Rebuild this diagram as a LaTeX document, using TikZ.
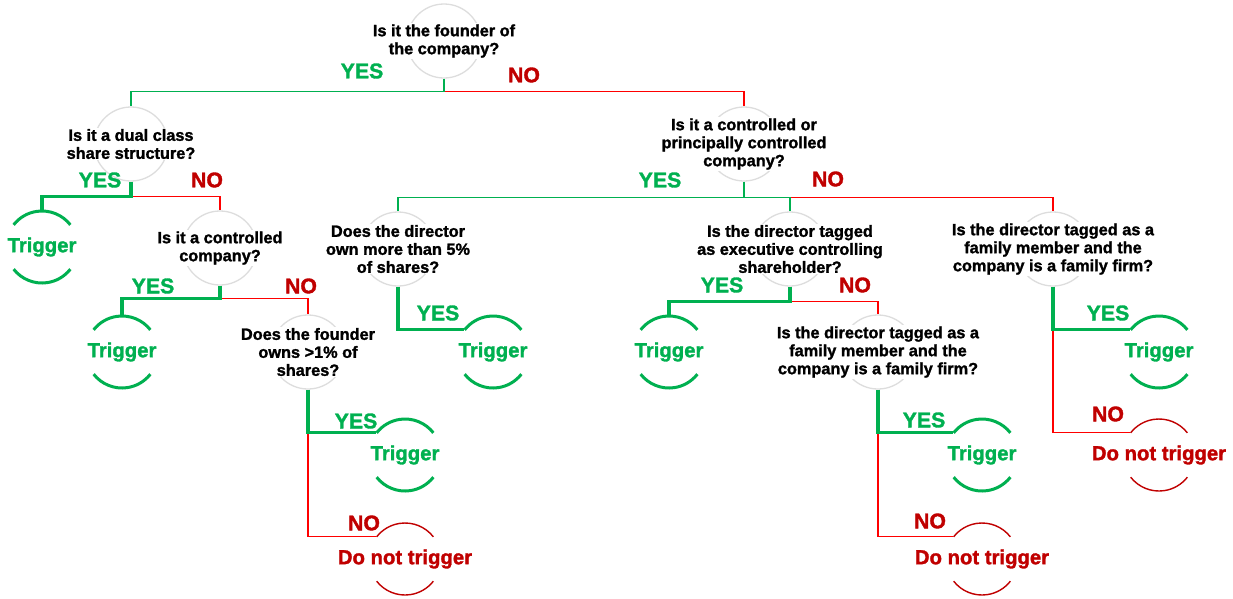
\documentclass[tikz,border=0pt]{standalone}
\usepackage{fontspec}
\setmainfont{Liberation Sans}[BoldFeatures={FakeBold=1.5}]
\usetikzlibrary{calc}
\definecolor{grn}{HTML}{00B050}
\definecolor{dred}{HTML}{C00000}
\definecolor{lred}{HTML}{FF0000}
\definecolor{cgray}{HTML}{DDDDDD}
\tikzset{
  qcirc/.style={circle, draw=cgray, line width=1.3pt, minimum size=74pt, inner sep=0pt},
  qtext/.style={fill=white, inner sep=1.5pt, align=center, font=\fontsize{16.3}{18}\selectfont\bfseries},
  res/.style={circle, minimum size=72pt, inner sep=0pt},
  restext/.style={inner sep=0pt, font=\fontsize{20.3}{22}\selectfont\bfseries},
  yes/.style={text=grn, inner sep=0pt, font=\fontsize{21.3}{22}\selectfont\bfseries},
  no/.style={text=dred, inner sep=0pt, font=\fontsize{21.3}{22}\selectfont\bfseries},
  gthin/.style={draw=grn, line width=1.5pt},
  gthick/.style={draw=grn, line width=3.3pt},
  rthin/.style={draw=lred, line width=1.4pt},
  garc/.style={draw=grn, line width=3pt},
  rarc/.style={draw=dred, line width=1.4pt},
}
\newcommand\resarcs[2]{%
  \draw[#2] ($(#1.center)+(38:36)$) arc[start angle=38,end angle=142,radius=36];
  \draw[#2] ($(#1.center)+(218:36)$) arc[start angle=218,end angle=322,radius=36];}
\begin{document}
\begin{tikzpicture}[x=1pt,y=1pt]
\useasboundingbox (0,0) rectangle (1233,-598);

% question circles
\node[qcirc] (q0) at (444,-41) {};
\node[qcirc] (q1) at (131,-144) {};
\node[qcirc] (q2) at (744,-144) {};
\node[qcirc] (q3) at (220,-248) {};
\node[qcirc] (q4) at (308,-352) {};
\node[qcirc] (q5) at (398,-249) {};
\node[qcirc] (q6) at (790,-249) {};
\node[qcirc] (q7) at (1053,-249) {};
\node[qcirc] (q8) at (878,-352) {};

\node[qtext] (q0t) at (q0) {Is it the founder of\\the company?};
\node[qtext] (q1t) at (q1) {Is it a dual class\\share structure?};
\node[qtext] (q2t) at (q2) {Is it a controlled or\\principally controlled\\company?};
\node[qtext] (q3t) at (q3) {Is it a controlled\\company?};
\node[qtext] (q4t) at (q4) {Does the founder\\owns >1\% of\\shares?};
\node[qtext] (q5t) at (q5) {Does the director\\own more than 5\%\\of shares?};
\node[qtext] (q6t) at (q6) {Is the director tagged\\as executive controlling\\shareholder?};
\node[qtext] (q7t) at (q7) {Is the director tagged as a\\family member and the\\company is a family firm?};
\node[qtext] (q8t) at (q8) {Is the director tagged as a\\family member and the\\company is a family firm?};

% result nodes
\node[res] (t1) at (42,-247) {};
\node[res] (t2) at (122,-352) {};
\node[res] (t3) at (405,-455) {};
\node[res] (r1) at (405,-559) {};
\node[res] (t4) at (493,-352) {};
\node[res] (t5) at (669,-352) {};
\node[res] (t6) at (982,-455) {};
\node[res] (r2) at (982,-559) {};
\node[res] (t7) at (1159,-352) {};
\node[res] (r3) at (1159,-455) {};

\foreach \n in {t1,t2,t3,t4,t5,t6,t7}{
  \node[restext, text=grn] (\n txt) at (\n) {Trigger};
  \resarcs{\n}{garc}
}
\foreach \n in {r1,r2,r3}{
  \node[restext, text=dred] (\n txt) at (\n) {Do not trigger};
  \resarcs{\n}{rarc}
}

% junctions
\coordinate (j0) at ($(q0.south)+(0,-13)$);
\coordinate (j1) at ($(q1.south)+(0,-15)$);
\coordinate (j2) at ($(q2.south)+(0,-16)$);
\coordinate (j3) at ($(q3.south)+(0,-13)$);
\coordinate (j6) at ($(q6.south)+(0,-15)$);

% connectors
\draw[rthin] (j0) -| (q2.north);
\draw[gthin] (q0.south) -- (j0) -| (q1.north);

\draw[rthin] (j1) -| (q3.north);
\draw[gthick] (q1.south) -- (j1) -| (t1.north);

\draw[rthin] (j3) -| (q4.north);
\draw[gthick] (q3.south) -- (j3) -| (t2.north);

\draw[rthin] (q4.south |- t3.142) -- (q4.south |- r1.142) -- (r1.142);
\draw[gthick] (q4.south) -- (q4.south |- t3.142) -- (t3.142);

\draw[rthin] (q6.north |- j2) -| (q7.north);
\draw[gthin] (q2.south) -- (j2) -| (q5.north);
\draw[gthin] (j2) -| (q6.north);

\draw[gthick] (q5.south) -- (q5.south |- t4.142) -- (t4.142);

\draw[rthin] (j6) -| (q8.north);
\draw[gthick] (q6.south) -- (j6) -| (t5.north);

\draw[rthin] (q8.south |- t6.142) -- (q8.south |- r2.142) -- (r2.142);
\draw[gthick] (q8.south) -- (q8.south |- t6.142) -- (t6.142);

\draw[rthin] (q7.south |- t7.142) -- (q7.south |- r3.142) -- (r3.142);
\draw[gthick] (q7.south) -- (q7.south |- t7.142) -- (t7.142);

% labels
\node[yes] (l0y) at (362,-71) {YES};
\node[no]  (l0n) at (524,-75) {NO};
\node[yes] (l1y) at (100,-180) {YES};
\node[no]  (l1n) at (207,-180) {NO};
\node[yes] (l3y) at (153,-286) {YES};
\node[no]  (l3n) at (301,-286) {NO};
\node[yes] (l4y) at (356,-421) {YES};
\node[no]  (l4n) at (364,-523) {NO};
\node[yes] (l2y) at (660,-180) {YES};
\node[no]  (l2n) at (828,-179) {NO};
\node[yes] (l5y) at (438,-313) {YES};
\node[yes] (l6y) at (722,-285) {YES};
\node[no]  (l6n) at (855,-285) {NO};
\node[yes] (l8y) at (924,-420) {YES};
\node[no]  (l8n) at (930,-521) {NO};
\node[yes] (l7y) at (1108,-313) {YES};
\node[no]  (l7n) at (1108,-414) {NO};
\end{tikzpicture}
\end{document}
